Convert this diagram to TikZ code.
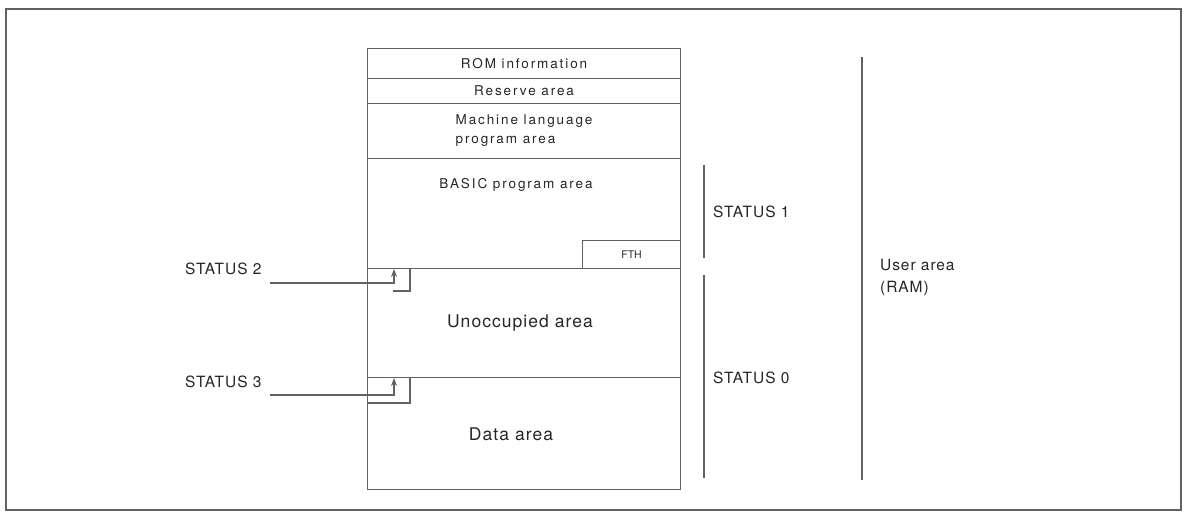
\documentclass[tikz,border=0pt]{standalone}
\usepackage{fontspec}
\setmainfont{TeX Gyre Heros}
\newfontfamily\spacedfam[LetterSpace=14]{TeX Gyre Heros}
\newfontfamily\lightspaced[LetterSpace=6]{TeX Gyre Heros}
\newcommand\mysmall{\spacedfam\fontsize{13.5}{19}\selectfont}
\newcommand\mylabel{\lightspaced\fontsize{15.5}{22}\selectfont}
\newcommand\mybig{\lightspaced\fontsize{17.5}{22}\selectfont}
\usetikzlibrary{arrows.meta}
\begin{document}
\begin{tikzpicture}[x=1pt,y=-1pt,
  ln/.style={draw=black!62, line width=1.1pt},
  cell/.style={ln, minimum width=313pt, inner sep=0pt, anchor=north west, text=black!85},
  txt/.style={text=black!85, inner sep=0pt},
  arr/.style={ln, -{Stealth[length=8pt,width=6pt]}}]
\useasboundingbox (0,0) rectangle (1187,513);
\draw[ln] (6,9) rectangle (1181,510);
% memory map
\node[cell, minimum height=30pt, font=\mysmall] (rom) at (367,48) {ROM information};
\node[cell, minimum height=25pt, font=\mysmall] (res) at (367,78) {Reserve area};
\node[cell, minimum height=55pt, font=\mysmall, align=left] (mach) at (367,103) {Machine language\\program area};
\node[cell, minimum height=110pt] (basic) at (367,158) {};
\node[txt, font=\mysmall] (basictxt) at (516,185) {BASIC program area};
\node[ln, anchor=north west, minimum width=98pt, minimum height=28pt, inner sep=0pt,
      text=black!85, font=\fontsize{10.5}{12}\selectfont] (fth) at (582,240) {FTH};
\node[cell, minimum height=109pt] (unocc) at (367,268) {};
\node[txt, font=\mybig] (unocctxt) at (520,323) {Unoccupied area};
\node[cell, minimum height=112pt] (data) at (367,377) {};
\node[txt, font=\mybig] (datatxt) at (511,434) {Data area};
% notches
\draw[ln] (410,268) -- (410,291) -- (393,291);
\draw[ln] (410,377) -- (410,403) -- (367,403);
% status pointers
\node[txt, font=\mylabel, anchor=west] (st2) at (185,269) {STATUS 2};
\node[txt, font=\mylabel, anchor=west] (st3) at (185,382) {STATUS 3};
\coordinate (s2) at (270,283);
\coordinate (s3) at (270,395);
\draw[arr] (s2) -| ([xshift=27pt,yshift=-1pt]unocc.north west);
\draw[arr] (s3) -| ([xshift=27pt,yshift=-1pt]data.north west);
% status brackets
\coordinate (b1t) at (704,165); \coordinate (b1b) at (704,258);
\coordinate (b0t) at (704,275); \coordinate (b0b) at (704,478);
\coordinate (ut) at (862,57); \coordinate (ub) at (862,480);
\draw[ln] (b1t) -- (b1b);
\draw[ln] (b0t) -- (b0b);
\draw[ln] (ut) -- (ub);
\node[txt, font=\mylabel, anchor=west] (st1) at (713,212) {STATUS 1};
\node[txt, font=\mylabel, anchor=west] (st0) at (713,378) {STATUS 0};
\node[txt, font=\mylabel, anchor=north west, align=left] (user) at (880,259) {User area\\(RAM)};
\end{tikzpicture}
\end{document}
